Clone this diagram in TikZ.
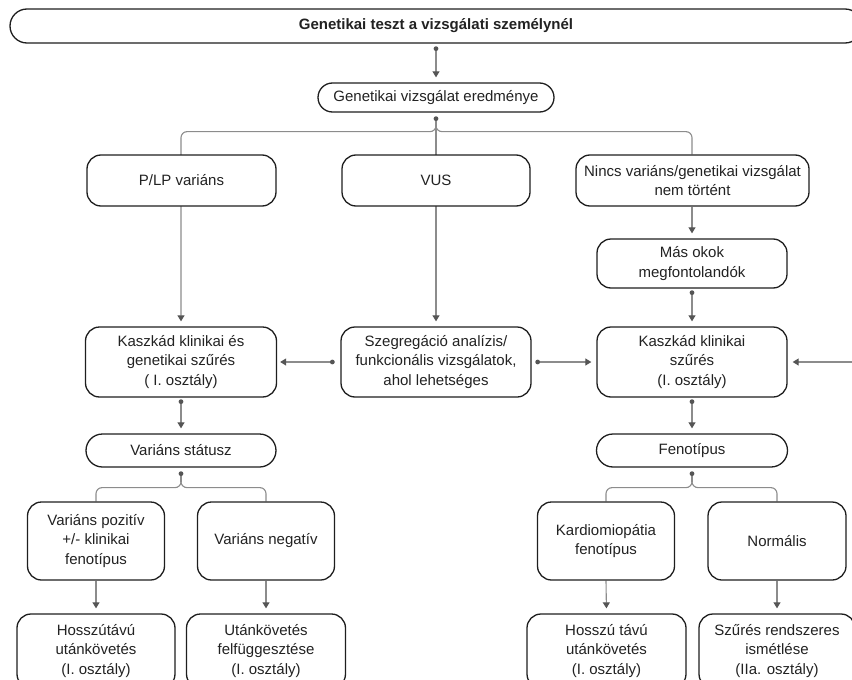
\documentclass[tikz,border=0pt]{standalone}
\usepackage{fontspec}
\setmainfont{Liberation Sans}
\usetikzlibrary{arrows.meta}
\definecolor{linegray}{HTML}{8C8C8C}
\definecolor{tipgray}{HTML}{555555}
\definecolor{boxline}{HTML}{1E1E1E}
\definecolor{txt}{HTML}{222222}
\pgfdeclarelayer{bg}
\pgfsetlayers{bg,main}
\begin{document}
\begin{tikzpicture}[x=1pt,y=-1pt,
  font=\fontsize{15}{19.5}\selectfont,
  box/.style={draw=boxline, line width=1.3pt, fill=white, rounded corners=14pt,
    align=center, inner sep=0pt, text=txt},
  conn/.style={draw=linegray, line width=1.1pt},
  arr/.style={conn, -{Triangle[length=6pt,width=7pt,color=tipgray]}, shorten >=5pt},
  harr/.style={conn, -{Triangle[length=6pt,width=7pt,color=tipgray]}, shorten >=3pt},
  dot/.style={fill=tipgray}
]
\useasboundingbox (0,0) rectangle (852,680);

% nodes
\node[box, rounded corners=17pt, minimum width=852pt, minimum height=34pt, font=\fontsize{15}{19.5}\selectfont\bfseries] (top) at (436,26) {Genetikai teszt a vizsgálati személynél};
\node[box, rounded corners=14.5pt, minimum width=236pt, minimum height=29pt] (res) at (436,97.5) {Genetikai vizsgálat eredménye};

\node[box, minimum width=189pt, minimum height=51pt] (plp) at (181.5,180.5) {P/LP variáns};
\node[box, minimum width=188pt, minimum height=51pt] (vus) at (436,180.5) {VUS};
\node[box, minimum width=233pt, minimum height=51pt] (nincs) at (692.5,180.5) {Nincs variáns/genetikai vizsgálat\\nem történt};

\node[box, minimum width=190pt, minimum height=49pt] (mas) at (692,263.5) {Más okok\\megfontolandók};

\node[box, minimum width=191pt, minimum height=70pt] (kgen) at (181,362) {Kaszkád klinikai és\\genetikai szűrés\\( I. osztály)};
\node[box, minimum width=190pt, minimum height=70pt] (szeg) at (436,362) {Szegregáció analízis/\\funkcionális vizsgálatok,\\ahol lehetséges};
\node[box, minimum width=190pt, minimum height=70pt] (kkl) at (692,362) {Kaszkád klinikai\\szűrés\\(I. osztály)};

\node[box, rounded corners=16.5pt, minimum width=190pt, minimum height=33pt] (vstat) at (181,450.5) {Variáns státusz};
\node[box, rounded corners=16.5pt, minimum width=191pt, minimum height=33pt] (feno) at (692,450.5) {Fenotípus};

\node[box, minimum width=137pt, minimum height=78pt] (vpoz) at (96,541) {Variáns pozitív\\+/- klinikai\\fenotípus};
\node[box, minimum width=137pt, minimum height=78pt] (vneg) at (266,541) {Variáns negatív};
\node[box, minimum width=137pt, minimum height=78pt] (kard) at (606,541) {Kardiomiopátia\\fenotípus};
\node[box, minimum width=138pt, minimum height=78pt] (norm) at (777,541) {Normális};

\node[box, minimum width=158pt, minimum height=74pt] (hossz) at (96,651) {Hosszútávú\\utánkövetés\\(I. osztály)};
\node[box, minimum width=159pt, minimum height=74pt] (utan) at (266,651) {Utánkövetés\\felfüggesztése\\(I. osztály)};
\node[box, minimum width=159pt, minimum height=74pt] (hosszu) at (606.5,651) {Hosszú távú\\utánkövetés\\(I. osztály)};
\node[box, minimum width=156pt, minimum height=74pt] (szures) at (777,651) {Szűrés rendszeres\\ismétlése\\(IIa. osztály)};

% dot coordinates
\coordinate (d0) at ([yshift=-5pt]top.south);
\coordinate (d1) at ([yshift=-6pt]res.south);
\coordinate (d2) at ([yshift=-4pt]mas.south);
\coordinate (d3) at ([yshift=-4pt]kgen.south);
\coordinate (d4) at ([yshift=-4pt]kkl.south);
\coordinate (d5) at ([yshift=-6pt]vstat.south);
\coordinate (d6) at ([yshift=-6pt]feno.south);
\coordinate (d7) at ([xshift=-8pt]szeg.west);
\coordinate (d8) at ([xshift=6pt]szeg.east);

% connectors
\begin{pgfonlayer}{bg}
\draw[arr] (d0) -- (res.north);

\coordinate (j1a) at ([yshift=-13pt]res.south);
\coordinate (j1) at ([yshift=-19pt]res.south);
\draw[conn] (d1) -- (j1a);
\draw[arr, rounded corners=6pt] (j1a) -- (j1) -- (j1 -| kgen.north) -- (kgen.north);
\draw[conn, rounded corners=6pt] (j1a) -- (j1) -- (j1 -| mas.north) -- (nincs.north -| mas.north);
\draw[arr] (j1a) -- (szeg.north);

\draw[arr] (nincs.south -| mas.north) -- (mas.north);
\draw[arr] (d2) -- (kkl.north);

\draw[harr] (d7) -- (kgen.east);
\draw[arr] (d8) -- (kkl.west);
\coordinate (rin) at (870,362);
\draw[arr] (rin) -- (kkl.east);

\draw[arr] (d3) -- (vstat.north);
\draw[arr] (d4) -- (feno.north);

\coordinate (j2a) at ([yshift=-14pt]vstat.south);
\coordinate (j2) at ([yshift=-20pt]vstat.south);
\draw[conn] (d5) -- (j2a);
\draw[conn, rounded corners=6pt] (j2a) -- (j2) -- (j2 -| vpoz.north) -- (vpoz.north);
\draw[conn, rounded corners=6pt] (j2a) -- (j2) -- (j2 -| vneg.north) -- (vneg.north);

\coordinate (j3a) at ([yshift=-14pt]feno.south);
\coordinate (j3) at ([yshift=-20pt]feno.south);
\draw[conn] (d6) -- (j3a);
\draw[conn, rounded corners=6pt] (j3a) -- (j3) -- (j3 -| kard.north) -- (kard.north);
\draw[conn, rounded corners=6pt] (j3a) -- (j3) -- (j3 -| norm.north) -- (norm.north);

\draw[arr] (vpoz.south) -- (hossz.north);
\draw[arr] (vneg.south) -- (utan.north);
\draw[arr] (kard.south) -- (hosszu.north);
\draw[arr] (norm.south) -- (szures.north);
\end{pgfonlayer}

% dots
\foreach \d in {d0,d1,d2,d3,d4,d5,d6,d7,d8}
  \fill[dot] (\d) circle (2.4pt);
\end{tikzpicture}
\end{document}
